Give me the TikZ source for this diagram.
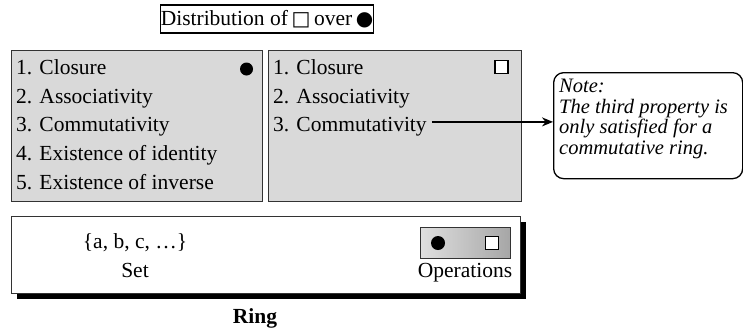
\documentclass[tikz,border=0pt]{standalone}
\usepackage{fontspec}
\setmainfont{Liberation Serif}
\newfontfamily\symf{DejaVu Sans}
\usetikzlibrary{arrows.meta,shadows}
\definecolor{boxgray}{HTML}{D9D9D9}
\definecolor{edgegray}{HTML}{333333}
\begin{document}
\begin{tikzpicture}[x=1pt,y=-1pt,
  font=\fontsize{21.5}{24}\selectfont,
  graybox/.style={draw=edgegray, line width=1.4pt, fill=boxgray, anchor=north west, inner sep=0pt},
  item/.style={anchor=base west, inner sep=0pt},
  plain/.style={inner sep=0pt},
]
\useasboundingbox (0,0) rectangle (743,330);

% title
\node[draw, line width=1.4pt, minimum width=210pt, minimum height=28pt, inner sep=0pt] (title) at (267,19)
  {Distribution of\,{\symf\fontsize{20}{20}\selectfont □}\,over\,{\symf\fontsize{20}{20}\selectfont ●}};

% left gray box
\node[graybox, minimum width=251pt, minimum height=151pt] (lbox) at (11,50) {};
\node[item] (l1) at (16,74.5) {1. Closure};
\node[item] (l2) at (16,103.2) {2. Associativity};
\node[item] (l3) at (16,131.9) {3. Commutativity};
\node[item] (l4) at (16,160.6) {4. Existence of identity};
\node[item] (l5) at (16,189.3) {5. Existence of inverse};
\node[circle, fill=black, inner sep=0pt, minimum size=13pt] (ldot) at (246.5,69) {};

% right gray box
\node[graybox, minimum width=253pt, minimum height=151pt] (rbox) at (268,50) {};
\node[item] (r1) at (273,74.5) {1. Closure};
\node[item] (r2) at (273,103.2) {2. Associativity};
\node[item] (r3) at (273,131.9) {3. Commutativity};
\node[draw, line width=1.2pt, fill=white, inner sep=0pt, minimum size=13pt] (rsq) at (501.5,67) {};

% note
\node[draw, line width=1.3pt, rounded corners=10pt, anchor=north west, minimum width=189pt, minimum height=106pt, inner sep=0pt] (note) at (553,72) {};
\node[anchor=north west, inner sep=0pt, align=left, font=\fontsize{20.5}{20.5}\itshape\selectfont] (notetext) at (559,79)
  {Note:\\The third property is\\only satisfied for a\\commutative ring.};

\coordinate (arrstart) at ([xshift=5pt, yshift=10pt]r3.base east);
\draw[line width=1.3pt, -{Stealth[length=11pt, width=9pt]}] (arrstart) -- (arrstart -| note.west);

% ring box
\node[draw=edgegray, line width=1.2pt, fill=white, anchor=north west, minimum width=509pt, minimum height=77pt, inner sep=0pt,
  drop shadow={shadow xshift=5pt, shadow yshift=-5pt, fill=black, opacity=1}] (ringbox) at (11,216) {};
\node[plain] (setel) at (135,243) {\{a, b, c, …\}};
\node[plain] (setlbl) at (135,270) {Set};
\node[draw=edgegray, line width=1.2pt, left color=gray!25, middle color=gray!8, right color=gray!70, anchor=north west,
  minimum width=90pt, minimum height=31pt, inner sep=0pt] (ops) at (420,227) {};
\node[circle, fill=black, inner sep=0pt, minimum size=14pt] (odot) at (438,243) {};
\node[draw, line width=1.3pt, fill=white, inner sep=0pt, minimum size=13pt] (osq) at (492,243) {};
\node[plain] (opslbl) at (465,273) {Operations};

\node[plain, font=\fontsize{21.5}{24}\bfseries\selectfont] (ring) at (255,318) {Ring};
\end{tikzpicture}
\end{document}
